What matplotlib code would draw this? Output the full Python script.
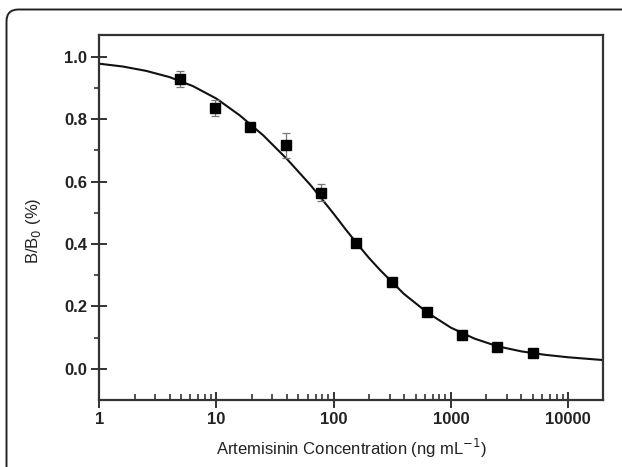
import numpy as np
import matplotlib
matplotlib.use("Agg")
import matplotlib.pyplot as plt
from matplotlib.patches import FancyBboxPatch
from matplotlib.ticker import LogLocator, NullFormatter, FixedLocator, FixedFormatter

plt.rcParams['font.family'] = ['Liberation Sans', 'DejaVu Sans']

# measured points (concentration in ng/mL, B/B0)
conc = [4.88, 9.77, 19.5, 39.1, 78.1, 156, 312, 625, 1250, 2500, 5000]
ratio = [0.928, 0.836, 0.776, 0.716, 0.565, 0.403, 0.279, 0.181, 0.107, 0.070, 0.050]
err = [0.026, 0.027, 0.008, 0.041, 0.027, 0.012, 0.006, 0.006, 0.005, 0.004, 0.004]

# fitted curve
fit_x = [1, 1.585, 2.512, 3.981, 6.31, 10, 15.85, 25.12, 39.81, 63.1, 79.4, 100, 125.9, 158.5,
         199.5, 251.2, 398.1, 631, 1000, 1585, 2512, 3981, 6310, 10000, 15850, 20000]
fit_y = [0.978, 0.969, 0.955, 0.935, 0.906, 0.866, 0.812, 0.748, 0.673, 0.590, 0.544, 0.497, 0.448, 0.401,
         0.356, 0.315, 0.240, 0.180, 0.132, 0.097, 0.072, 0.056, 0.045, 0.037, 0.031, 0.028]

xticks = [1, 10, 100, 1000, 10000]
xticklabels = ['1', '10', '100', '1000', '10000']
yticks = [0.0, 0.2, 0.4, 0.6, 0.8, 1.0]
yticklabels = ['0.0', '0.2', '0.4', '0.6', '0.8', '1.0']

fig = plt.figure(figsize=(6.22, 4.67), dpi=100)
ax = fig.add_axes([99.3 / 622, 1 - 400 / 467, 504 / 622, 365 / 467])

# rounded outer frame, cut by the right and bottom edges
frame = FancyBboxPatch((0.065, -0.5), 7.0, 5.075, boxstyle="round,pad=0,rounding_size=0.12",
                       transform=fig.dpi_scale_trans, fill=False, lw=1.4, ec='#222222')
fig.patches.append(frame)

ax.plot(fit_x, fit_y, color='#111111', lw=1.5, zorder=2)
ax.errorbar(conc, ratio, yerr=err, fmt='none', ecolor='#777777', elinewidth=0.9,
            capsize=2.6, capthick=0.9, zorder=3)
ax.plot(conc, ratio, 's', color='black', ms=6.5, zorder=4)

ax.set_xscale('log')
ax.set_xlim(1, 20000)
ax.set_ylim(-0.1, 1.07)

ax.xaxis.set_major_locator(FixedLocator(xticks))
ax.xaxis.set_major_formatter(FixedFormatter(xticklabels))
ax.xaxis.set_minor_locator(LogLocator(base=10, subs=np.arange(2, 10), numticks=20))
ax.xaxis.set_minor_formatter(NullFormatter())
ax.yaxis.set_major_locator(FixedLocator(yticks))
ax.yaxis.set_major_formatter(FixedFormatter(yticklabels))
ax.yaxis.set_minor_locator(FixedLocator([0.1, 0.3, 0.5, 0.7, 0.9]))

for s in ax.spines.values():
    s.set_linewidth(1.6)
    s.set_color('#333333')

ax.tick_params(which='major', direction='inout', length=11.5, width=1.4, color='#333333',
               labelsize=12, labelcolor='#222222')
ax.tick_params(axis='x', which='major', pad=3)
ax.tick_params(axis='y', which='major', pad=3)
ax.tick_params(axis='x', which='minor', direction='in', length=4, width=1.2, color='#333333')
ax.tick_params(axis='y', which='minor', direction='out', length=3.5, width=1.2, color='#333333')
for lab in ax.get_xticklabels() + ax.get_yticklabels():
    lab.set_fontweight('bold')

ax.set_xlabel('Artemisinin Concentration (ng mL$^{-1}$)', fontsize=12, color='#222222', labelpad=7)
ax.set_ylabel('B/B$_0$ (%)', fontsize=12, color='#222222')
ax.yaxis.set_label_coords(-0.112, 0.463)

fig.savefig('out.png', dpi=100)
